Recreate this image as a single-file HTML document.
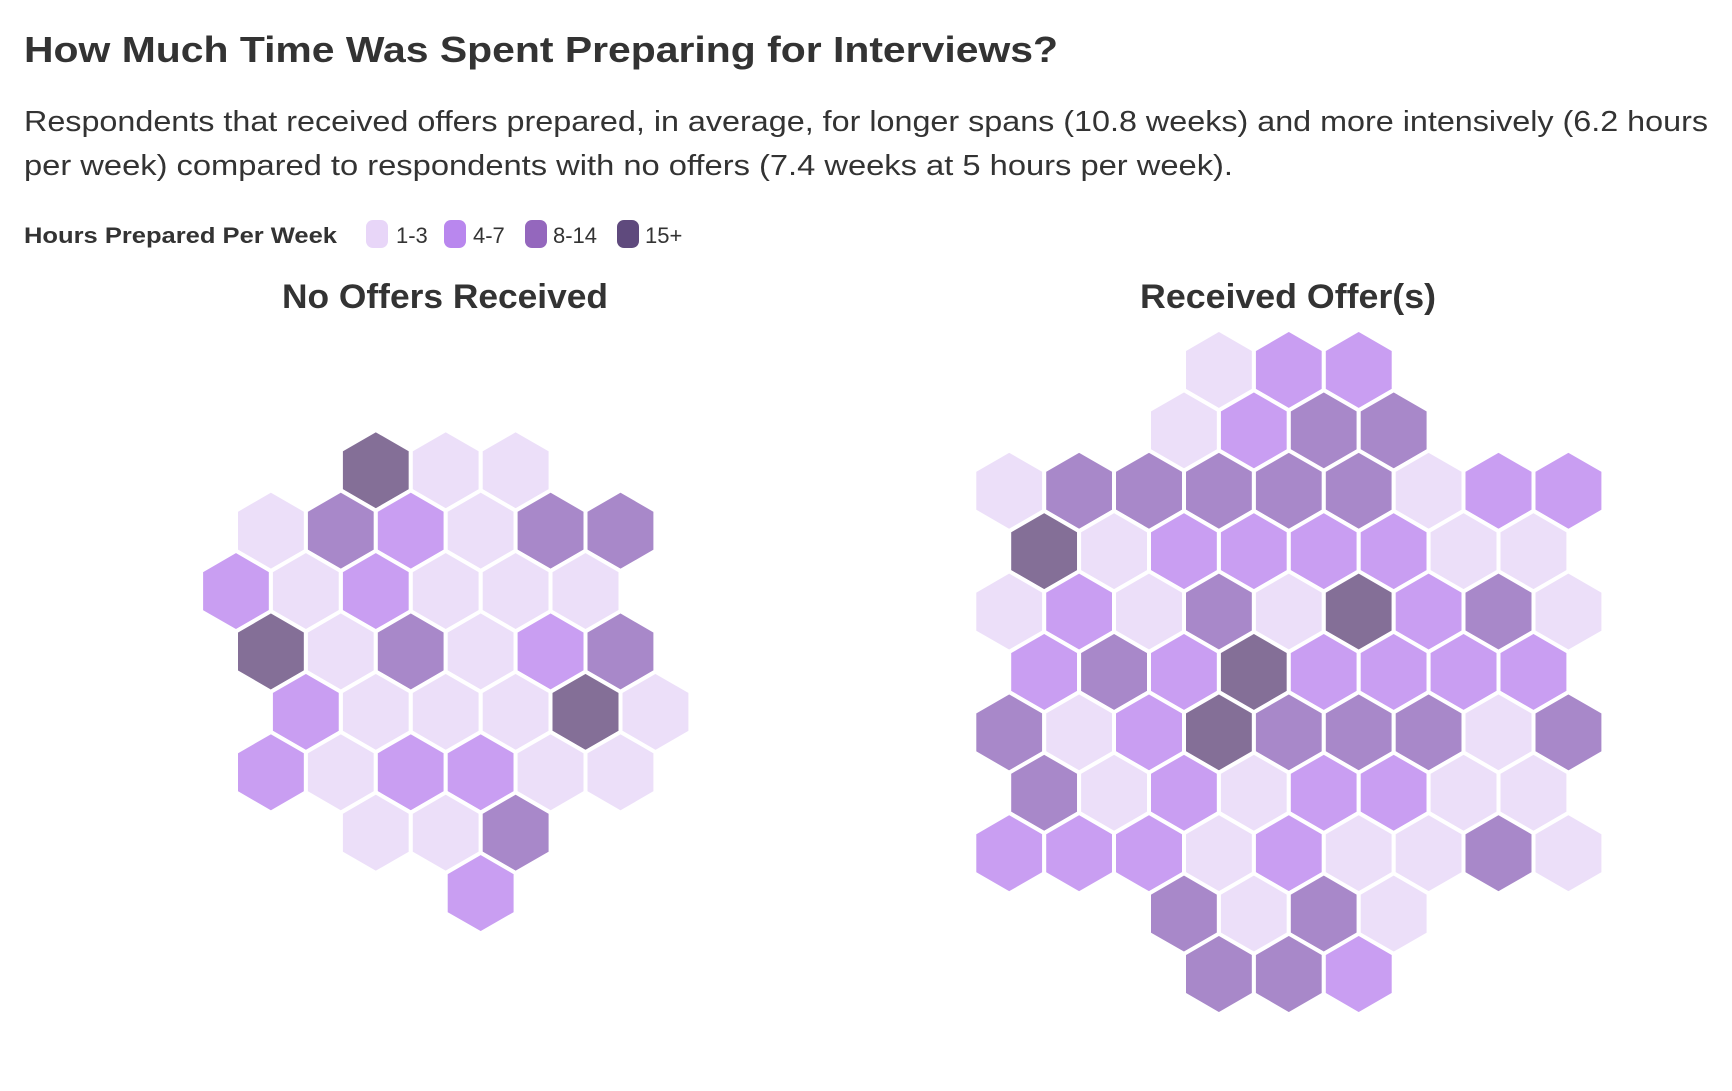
<!DOCTYPE html>
<html><head><meta charset="utf-8">
<style>
html,body{margin:0;padding:0;background:#fff;}
svg{display:block;}
text{font-family:"Liberation Sans",sans-serif;fill:#333;}
</style></head>
<body>
<svg id="chart" width="1732" height="1091" viewBox="0 0 1732 1091" xmlns="http://www.w3.org/2000/svg">
  <text x="24" y="62" font-size="36" font-weight="bold" textLength="1034" lengthAdjust="spacingAndGlyphs">How Much Time Was Spent Preparing for Interviews?</text>
  <text x="24" y="131" font-size="29" textLength="1684" lengthAdjust="spacingAndGlyphs">Respondents that received offers prepared, in average, for longer spans (10.8 weeks) and more intensively (6.2 hours</text>
  <text x="24" y="175" font-size="29" textLength="1209" lengthAdjust="spacingAndGlyphs">per week) compared to respondents with no offers (7.4 weeks at 5 hours per week).</text>
  <g id="legend">
    <text x="24" y="243" font-size="22" font-weight="bold" textLength="313" lengthAdjust="spacingAndGlyphs">Hours Prepared Per Week</text>
  </g>
  <text x="445" y="308" font-size="34" font-weight="bold" text-anchor="middle" textLength="326" lengthAdjust="spacingAndGlyphs">No Offers Received</text>
  <text x="1288" y="308" font-size="34" font-weight="bold" text-anchor="middle" textLength="296" lengthAdjust="spacingAndGlyphs">Received Offer(s)</text>
  <g id="left"></g>
  <g id="right"></g>
</svg>
<script>
// Legend categories and colors
const categories = ["1-3", "4-7", "8-14", "15+"];
const legendColors = ["#e8d6f8", "#b987ee", "#9467bd", "#5f4a7d"];
const hexColors = ["#ecdff9", "#c99ef2", "#a888c9", "#846f97"];
// Hex grid data: each row string, '.' = empty, '1'..'4' = category index+1
const noOffersRows = ["..411", "132133", "212111", "413123", ".211141", "212211", "..113", "...2"];
const offersRows = ["...122", "..1233", "133333122", "41222211", "121314231", "23242222", "312433313", "31212211", "222121131", "..3131", "...332"];

const NS = "http://www.w3.org/2000/svg";
const legendX = [366, 444, 525, 617];
const legendTextX = [396, 473, 553, 645];
const legend = document.getElementById('legend');
categories.forEach((c, i) => {
  const r = document.createElementNS(NS, 'rect');
  r.setAttribute('x', legendX[i]); r.setAttribute('y', 220);
  r.setAttribute('width', 22); r.setAttribute('height', 28);
  r.setAttribute('rx', 7); r.setAttribute('fill', legendColors[i]);
  
  
  legend.appendChild(r);
  const t = document.createElementNS(NS, 'text');
  t.setAttribute('x', legendTextX[i]); t.setAttribute('y', 243);
  t.setAttribute('font-size', 22);
  t.textContent = c;
  
  
  legend.appendChild(t);
});

function drawHex(gid, rows, x0, y0) {
  const g = document.getElementById(gid);
  const sx = 69.9, sy = 60.4, hw = sx / 2, hh = 40.3;
  rows.forEach((row, ri) => {
    for (let k = 0; k < row.length; k++) {
      const ch = row[k];
      if (ch === '.') continue;
      const v = parseInt(ch, 10) - 1;
      const cx = x0 + k * sx + (ri % 2 ? hw : 0);
      const cy = y0 + ri * sy;
      const pts = [[0,-hh],[hw,-hh/2],[hw,hh/2],[0,hh],[-hw,hh/2],[-hw,-hh/2]]
        .map(p => (cx + p[0]).toFixed(1) + ',' + (cy + p[1]).toFixed(1)).join(' ');
      const p = document.createElementNS(NS, 'polygon');
      p.setAttribute('points', pts);
      p.setAttribute('fill', hexColors[v]);
      p.setAttribute('stroke', '#fff');
      p.setAttribute('stroke-width', 4);
      
      
      g.appendChild(p);
    }
  });
}
drawHex('left', noOffersRows, 236, 470.3);
drawHex('right', offersRows, 1009.2, 370);
</script>
</body></html>
